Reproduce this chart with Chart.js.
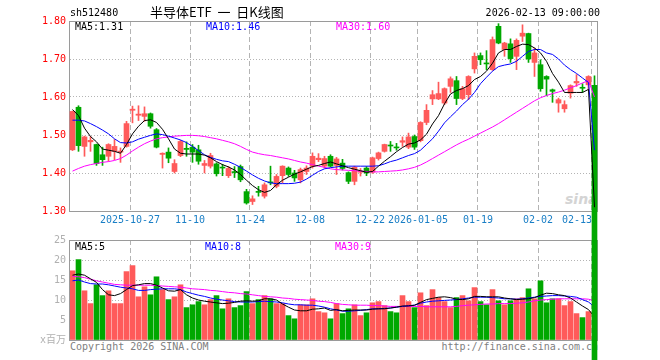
<!DOCTYPE html>
<html>
<head>
<meta charset="utf-8">
<script src="https://cdn.jsdelivr.net/npm/chart.js@4/dist/chart.umd.min.js"></script>
<style>
body { margin: 0; background: #fff; }
#wrap { position: relative; width: 660px; height: 360px; overflow: hidden; font-family: "DejaVu Sans Mono", monospace; font-size: 10px; }
canvas { position: absolute; left: 0; top: 0; }
.t { position: absolute; white-space: nowrap; line-height: 12px; }
</style>
</head>
<body>
<div id="wrap">
  <div class="t" style="left:70px;top:341px;color:#808080;z-index:0">Copyright 2026 SINA.COM</div>
  <div class="t" style="right:62px;top:341px;color:#808080;z-index:0">http://finance.sina.com.cn</div>
  <div class="t" style="left:565px;top:191px;color:#d4d4d4;font:italic bold 14px 'DejaVu Sans';z-index:0">sina</div>
  <canvas id="vol" width="660" height="360" style="z-index:1"></canvas>
  <canvas id="price" width="660" height="360" style="z-index:2"></canvas>
  <div class="t" style="left:70px;top:7px;color:#000;z-index:3">sh512480</div>
  <div class="t" style="left:150px;top:4px;line-height:16px;font-size:13px;font-family:'Noto Sans CJK SC';color:#000;z-index:3">半导体ETF&nbsp;&nbsp;一&nbsp;&nbsp;日K线图</div>
  <div class="t" style="right:60px;top:7px;color:#000;z-index:3">2026-02-13 09:00:00</div>
  <div class="t" style="left:75px;top:21px;color:#000;z-index:3">MA5:1.31</div>
  <div class="t" style="left:206px;top:21px;color:#0000ff;z-index:3">MA10:1.46</div>
  <div class="t" style="left:336px;top:21px;color:#ff00ff;z-index:3">MA30:1.60</div>
  <div class="t" style="left:75px;top:241px;color:#000;z-index:3">MA5:5</div>
  <div class="t" style="left:205px;top:241px;color:#0000ff;z-index:3">MA10:8</div>
  <div class="t" style="left:335px;top:241px;color:#ff00ff;z-index:3">MA30:9</div>
</div>
<script>
// daily candles, index 0 = 2025-10-13 ... index 87 = 2026-02-13
const open = [1.461,1.573,1.470,1.482,1.475,1.448,1.444,1.457,1.455,1.470,
  1.565,1.552,1.549,1.556,1.514,1.449,1.455,1.404,1.446,1.465,
  1.468,1.461,1.420,1.418,1.424,1.415,1.393,1.403,1.417,1.351,
  1.325,1.351,1.339,1.376,1.365,1.393,1.413,1.400,1.382,1.404,
  1.418,1.435,1.418,1.444,1.420,1.426,1.401,1.378,1.402,1.413,
  1.402,1.438,1.457,1.473,1.468,1.481,1.468,1.496,1.485,1.533,
  1.595,1.595,1.584,1.628,1.643,1.596,1.606,1.674,1.709,1.689,
  1.672,1.786,1.725,1.740,1.707,1.760,1.767,1.691,1.685,1.654,
  1.619,1.584,1.569,1.610,1.637,1.625,1.632,1.631];
const high = [1.563,1.577,1.497,1.496,1.476,1.468,1.477,1.488,1.466,1.536,
  1.576,1.577,1.574,1.558,1.517,1.453,1.466,1.435,1.486,1.482,
  1.475,1.473,1.433,1.452,1.427,1.423,1.417,1.417,1.421,1.357,
  1.340,1.365,1.374,1.418,1.396,1.419,1.416,1.407,1.413,1.419,
  1.453,1.451,1.444,1.448,1.441,1.436,1.403,1.418,1.412,1.417,
  1.442,1.455,1.476,1.483,1.478,1.495,1.505,1.500,1.535,1.580,
  1.617,1.639,1.624,1.653,1.654,1.628,1.656,1.716,1.716,1.722,
  1.758,1.793,1.744,1.753,1.753,1.790,1.768,1.729,1.698,1.656,
  1.621,1.597,1.590,1.632,1.659,1.635,1.656,1.656];
const low = [1.459,1.457,1.444,1.457,1.420,1.420,1.431,1.435,1.428,1.468,
  1.532,1.538,1.536,1.518,1.466,1.413,1.427,1.400,1.443,1.444,
  1.428,1.423,1.400,1.413,1.392,1.393,1.388,1.388,1.377,1.318,
  1.317,1.339,1.334,1.369,1.361,1.374,1.391,1.378,1.374,1.396,
  1.413,1.430,1.413,1.416,1.396,1.408,1.372,1.369,1.392,1.393,
  1.399,1.434,1.455,1.457,1.460,1.470,1.464,1.462,1.482,1.527,
  1.580,1.593,1.580,1.612,1.580,1.593,1.593,1.663,1.685,1.672,
  1.670,1.740,1.707,1.691,1.672,1.746,1.691,1.654,1.615,1.603,
  1.586,1.560,1.560,1.597,1.628,1.612,1.619,0];
const close = [1.562,1.472,1.495,1.486,1.425,1.435,1.475,1.470,1.457,1.530,
  1.568,1.555,1.556,1.523,1.468,1.452,1.439,1.425,1.483,1.462,
  1.455,1.431,1.425,1.446,1.398,1.413,1.412,1.401,1.382,1.321,
  1.332,1.349,1.369,1.374,1.391,1.418,1.396,1.387,1.409,1.413,
  1.444,1.439,1.438,1.418,1.437,1.412,1.378,1.415,1.405,1.400,
  1.440,1.453,1.475,1.471,1.466,1.485,1.495,1.468,1.533,1.565,
  1.606,1.609,1.622,1.648,1.596,1.622,1.654,1.707,1.698,1.687,
  1.751,1.742,1.742,1.701,1.749,1.768,1.700,1.716,1.622,1.647,
  1.615,1.593,1.580,1.630,1.641,1.623,1.654,0];

const ma5 = [1.567,1.551,1.518,1.496,1.482,1.463,1.460,1.457,1.452,1.475,
  1.503,1.523,1.538,1.540,1.533,1.515,1.490,1.463,1.452,1.450,
  1.450,1.450,1.447,1.440,1.430,1.422,1.416,1.408,1.396,1.381,
  1.367,1.356,1.349,1.354,1.369,1.381,1.389,1.397,1.403,1.410,
  1.417,1.420,1.425,1.429,1.424,1.419,1.414,1.410,1.406,1.402,
  1.404,1.418,1.431,1.443,1.456,1.467,1.476,1.479,1.487,1.502,
  1.529,1.551,1.582,1.608,1.617,1.622,1.630,1.646,1.654,1.668,
  1.689,1.716,1.725,1.725,1.733,1.739,1.738,1.729,1.716,1.694,
  1.662,1.639,1.612,1.612,1.612,1.612,1.620,1.31];
const ma10 = [1.539,1.539,1.537,1.530,1.522,1.513,1.503,1.490,1.480,1.479,
  1.482,1.489,1.494,1.499,1.503,1.501,1.497,1.492,1.487,1.480,
  1.470,1.459,1.448,1.441,1.436,1.432,1.430,1.423,1.415,1.405,
  1.395,1.386,1.379,1.374,1.372,1.372,1.372,1.373,1.376,1.384,
  1.394,1.404,1.411,1.414,1.416,1.418,1.418,1.418,1.418,1.418,
  1.418,1.419,1.424,1.430,1.434,1.440,1.446,1.451,1.460,1.475,
  1.490,1.510,1.532,1.548,1.563,1.580,1.594,1.612,1.635,1.652,
  1.668,1.680,1.684,1.687,1.694,1.707,1.720,1.725,1.725,1.716,
  1.712,1.700,1.684,1.672,1.662,1.650,1.638,1.46];
const ma30 = [1.405,1.412,1.418,1.422,1.425,1.428,1.430,1.433,1.438,1.447,
  1.458,1.468,1.477,1.484,1.490,1.493,1.495,1.497,1.498,1.499,
  1.499,1.498,1.496,1.493,1.490,1.486,1.482,1.477,1.470,1.462,
  1.455,1.451,1.448,1.446,1.443,1.440,1.437,1.433,1.429,1.426,
  1.422,1.418,1.415,1.411,1.409,1.408,1.407,1.406,1.405,1.404,
  1.403,1.403,1.404,1.405,1.406,1.408,1.411,1.415,1.421,1.429,
  1.438,1.447,1.456,1.465,1.474,1.482,1.489,1.497,1.505,1.513,
  1.521,1.530,1.540,1.550,1.560,1.570,1.580,1.590,1.598,1.604,
  1.609,1.613,1.618,1.624,1.630,1.637,1.643,1.600];

// volume in millions
const volume = [17.3,20.1,12.3,9.1,13.8,11.1,12.3,9.1,9.1,17.1,
  18.6,10.8,13.3,11.3,15.8,12.6,10.1,10.8,13.8,8.1,
  8.8,9.6,8.8,10.1,11.1,7.8,10.3,8.1,8.6,12.1,
  9.1,10.1,11.1,10.3,9.1,9.1,6.1,5.3,8.8,8.8,
  10.3,7.1,6.8,5.3,9.1,6.6,7.8,8.8,6.1,6.8,
  9.3,9.6,8.6,7.1,6.8,11.1,9.6,8.1,11.8,8.6,
  12.6,10.6,9.6,8.1,10.6,11.1,9.8,13.1,9.6,8.8,
  12.6,9.8,8.8,9.8,10.3,10.6,12.8,10.3,14.8,9.3,
  10.3,10.3,8.6,9.6,6.6,5.6,7.1,0];
const vma5 = [16.2,16.5,16.2,15.3,14.4,12.6,11.3,11.1,11.6,12.6,
  13.6,13.8,14.1,14.1,13.7,13.0,12.3,12.2,12.6,11.3,
  10.5,10.0,9.7,9.5,9.3,9.1,9.2,9.4,9.7,9.8,
  9.7,9.8,10.3,10.3,10.0,9.0,8.2,7.5,7.3,7.3,
  7.7,7.8,8.0,7.4,7.6,7.3,7.4,7.5,7.5,7.5,
  7.7,7.8,7.8,8.0,8.2,8.5,8.5,8.7,9.4,10.1,
  10.4,10.7,10.8,10.6,10.2,10.1,10.3,10.9,10.9,10.8,
  10.8,10.8,10.5,10.3,10.1,10.2,10.3,10.6,11.2,11.7,
  11.6,11.3,11.1,10.5,9.5,8.5,7.6,5.8];
const vma10 = [14.8,15.0,14.5,14.1,14.0,14.0,13.8,13.5,13.2,13.0,
  12.8,12.4,12.4,12.6,12.7,12.8,12.8,12.8,12.6,12.0,
  11.6,11.2,10.9,10.5,10.2,10.0,9.8,9.6,9.5,9.5,
  9.5,9.6,9.7,9.6,9.5,9.3,9.0,8.8,8.8,8.7,
  8.7,8.5,8.2,7.8,7.5,7.2,7.2,7.3,7.4,7.6,
  7.8,7.8,7.9,8.0,8.2,8.4,8.6,8.7,9.2,9.5,
  9.7,9.8,9.9,10.0,10.1,10.3,10.5,10.7,10.7,10.7,
  10.6,10.5,10.3,10.3,10.2,10.3,10.5,10.7,10.9,11.0,
  11.1,11.1,11.0,10.9,10.7,10.1,9.5,8.3];
const vma30 = [15.9,15.8,15.6,15.2,14.8,14.5,14.2,13.9,13.8,13.7,
  13.7,13.7,13.7,13.7,13.6,13.5,13.4,13.3,13.2,13.0,
  12.8,12.7,12.6,12.4,12.3,12.1,11.9,11.8,11.6,11.5,
  11.3,11.1,10.9,10.8,10.7,10.5,10.4,10.2,10.1,10.0,
  9.9,9.7,9.6,9.4,9.1,8.9,8.8,8.7,8.7,8.7,
  8.6,8.6,8.5,8.4,8.4,8.4,8.4,8.4,8.4,8.3,
  8.3,8.3,8.3,8.3,8.4,8.6,8.7,8.8,8.9,9.0,
  9.0,9.1,9.1,9.1,9.2,9.3,9.5,9.8,10.0,10.1,
  10.2,10.3,10.3,10.3,10.3,10.3,10.2,9.8];

// date ticks (candle index -> label)
const tickIndex = [10, 20, 30, 40, 50, 58, 68, 78, 87];
const tickLabels = ['2025-10-27', '11-10', '11-24', '12-08', '12-22', '2026-01-05', '01-19', '02-02', '02-13'];

const UP = '#ff5a5a', DOWN = '#00a800';
const colors = close.map((c, i) => c >= open[i] ? UP : DOWN);
const mono = '"DejaVu Sans Mono", "Noto Sans CJK SC", monospace';

// candle i is centred at 72.5 + 6*i px, plot box from x=70 to x=597
const xMin = -2.5 / 6, xMax = (597 - 72.5) / 6;
const gridColor = '#b4b4b4';

const frame = {
    id: 'frame',
    beforeDatasetsDraw(chart) {
        const { ctx, chartArea: a } = chart;
        ctx.save();
        ctx.strokeStyle = '#9a9a9a';
        ctx.lineWidth = 1;
        ctx.strokeRect(Math.round(a.left) - 0.5, Math.round(a.top) + 0.5,
            Math.round(a.right - a.left) + 1, Math.round(a.bottom - a.top));
        ctx.restore();
    }
};

function xScale(showLabels) {
    return {
        type: 'linear', min: xMin, max: xMax, offset: false,
        afterBuildTicks: s => { s.ticks = tickIndex.map(v => ({ value: v - 2.5 / 6 })); },
        afterFit: s => { s.height = showLabels ? 20 : 0; },
        ticks: {
            display: showLabels, autoSkip: false, maxRotation: 0, padding: 3,
            color: '#1a7fc6', font: { family: mono, size: 10 },
            // the last label sits left of its grid line, like the original
            callback: (v, k) => k === tickLabels.length - 1 ? tickLabels[k] + '     ' : tickLabels[k]
        },
        grid: { color: gridColor, drawTicks: false, offset: false },
        border: { display: false, dash: [5, 3] }
    };
}

function line(data, color) {
    return {
        type: 'line', data: data.map((v, i) => ({ x: i, y: v })),
        borderColor: color, borderWidth: 1, pointRadius: 0, tension: 0, order: 0
    };
}

Chart.defaults.font.family = mono;

new Chart(document.getElementById('price'), {
    type: 'bar',
    data: {
        datasets: [
            line(ma5, '#000000'),
            line(ma10, '#0000ff'),
            line(ma30, '#ff00ff'),
            {
                label: 'body', data: open.map((o, i) => ({ x: i, y: [o, close[i]] })),
                backgroundColor: colors, barThickness: 5, minBarLength: 1,
                grouped: false, order: 1, clip: false
            },
            {
                label: 'wick', data: low.map((l, i) => ({ x: i, y: [l, high[i]] })),
                backgroundColor: colors, barThickness: 1, minBarLength: 1,
                grouped: false, order: 2, clip: false
            }
        ]
    },
    options: {
        responsive: false, animation: false, events: [],
        layout: { padding: { left: 0, right: 63, top: 21, bottom: 129 } },
        plugins: { legend: { display: false }, tooltip: { enabled: false } },
        scales: {
            x: xScale(true),
            y: {
                min: 1.3, max: 1.8,
                afterFit: s => { s.width = 70; },
                ticks: {
                    stepSize: 0.1, padding: 4, color: '#ff0000',
                    font: { family: mono, size: 10 },
                    callback: v => Number(v).toFixed(2)
                },
                grid: { color: gridColor, drawTicks: false },
                border: { display: false, dash: [1, 2] }
            }
        }
    },
    plugins: [frame]
});

new Chart(document.getElementById('vol'), {
    type: 'bar',
    data: {
        datasets: [
            line(vma5, '#000000'),
            line(vma10, '#0000ff'),
            line(vma30, '#ff00ff'),
            {
                label: 'volume', data: volume.map((v, i) => ({ x: i, y: v })),
                backgroundColor: colors, barThickness: 5, grouped: false, order: 1
            }
        ]
    },
    options: {
        responsive: false, animation: false, events: [],
        layout: { padding: { left: 0, right: 63, top: 240, bottom: 20 } },
        plugins: { legend: { display: false }, tooltip: { enabled: false } },
        scales: {
            x: xScale(false),
            y: {
                min: 0, max: 25,
                afterFit: s => { s.width = 70; },
                ticks: {
                    stepSize: 5, padding: 4, color: '#b0b0b0',
                    font: { family: mono, size: 10 },
                    callback: v => v === 0 ? 'x百万' : v
                },
                grid: { color: gridColor, drawTicks: false },
                border: { display: false, dash: [1, 2] }
            }
        }
    },
    plugins: [frame]
});
</script>
</body>
</html>
